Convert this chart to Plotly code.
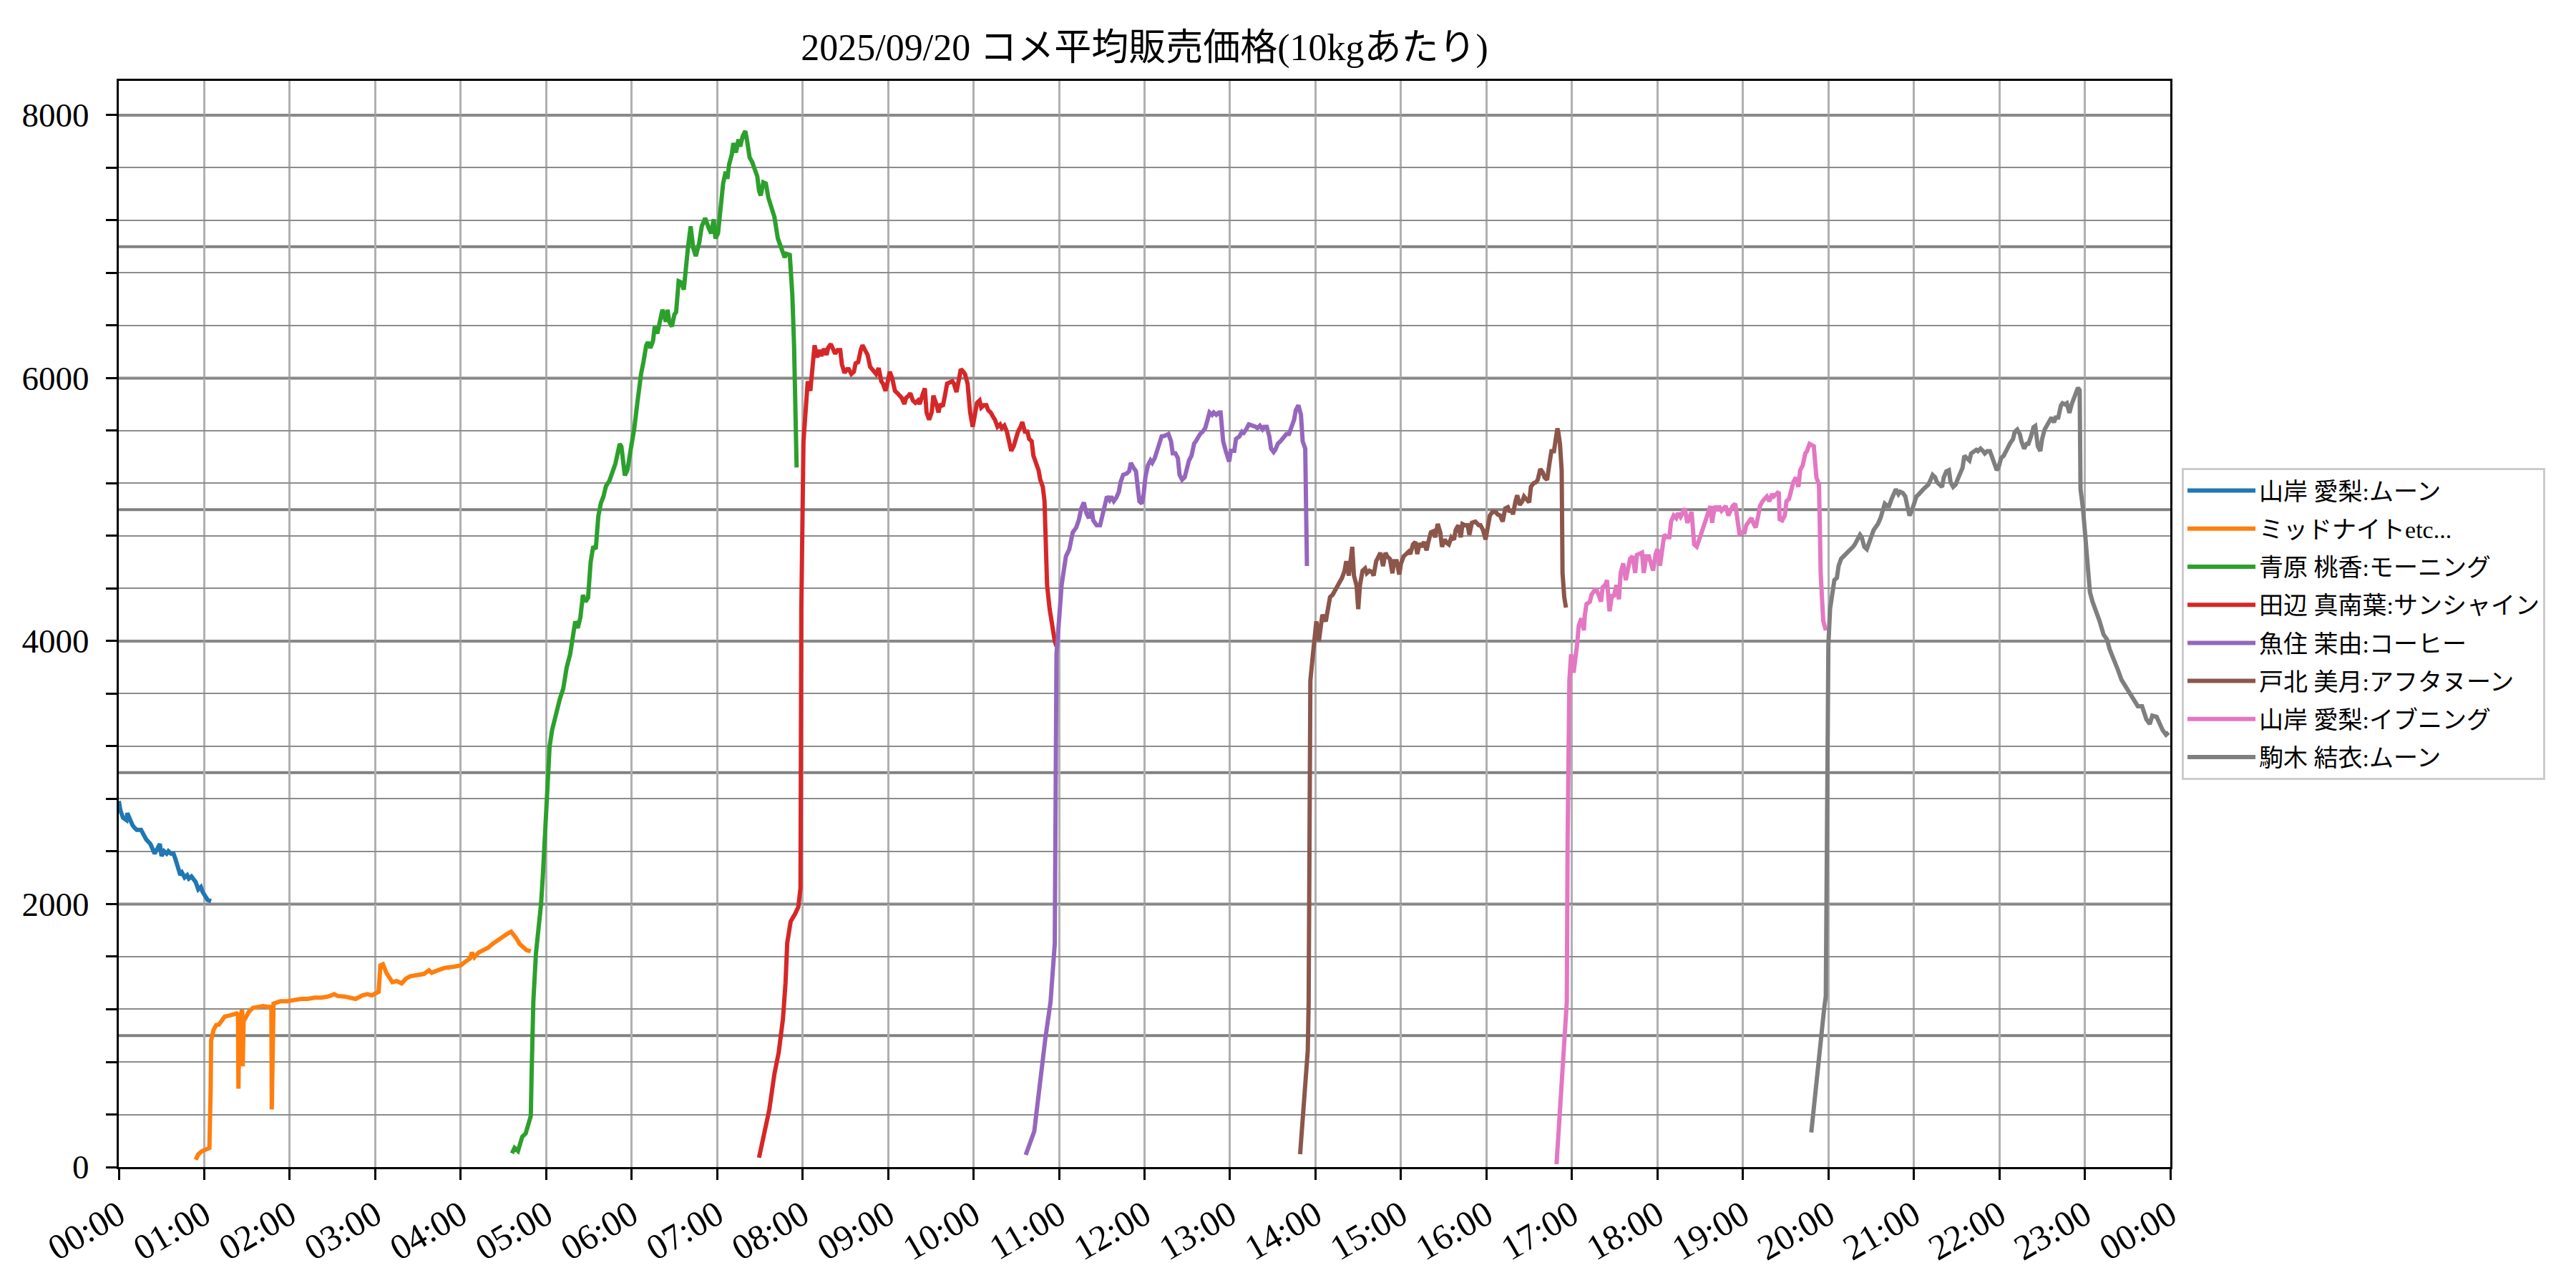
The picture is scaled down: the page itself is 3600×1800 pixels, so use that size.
import plotly.graph_objects as go

# ---------------- data (hours since 00:00, price in yen per 10kg) ----------------
names = ["山岸 愛梨:ムーン", "ミッドナイトetc...", "青原 桃香:モーニング", "田辺 真南葉:サンシャイン",
         "魚住 茉由:コーヒー", "戸北 美月:アフタヌーン", "山岸 愛梨:イブニング", "駒木 結衣:ムーン"]
colors = ["#1f77b4", "#ff7f0e", "#2ca02c", "#d62728", "#9467bd", "#8c564b", "#e377c2", "#7f7f7f"]

t_moon1 = [0.0, 0.02, 0.05, 0.09, 0.10, 0.13, 0.16, 0.18, 0.21, 0.26, 0.29, 0.32, 0.37, 0.40, 0.42, 0.45,
           0.48, 0.50, 0.53, 0.56, 0.58, 0.61, 0.64, 0.66, 0.69, 0.72, 0.74, 0.77, 0.80, 0.82, 0.85, 0.88,
           0.90, 0.93, 0.96, 0.98, 1.01, 1.04, 1.08]
v_moon1 = [2783, 2710, 2656, 2638, 2692, 2638, 2601, 2583, 2565, 2565, 2529, 2493, 2457, 2402, 2384, 2420,
           2457, 2366, 2402, 2384, 2402, 2384, 2384, 2348, 2275, 2221, 2239, 2203, 2220, 2194, 2210, 2185,
           2167, 2112, 2130, 2094, 2058, 2031, 2022]

t_mid = [0.90, 0.93, 0.97, 1.02, 1.06, 1.075, 1.08, 1.11, 1.14, 1.17, 1.20, 1.24, 1.28, 1.31, 1.35, 1.38,
         1.395, 1.40, 1.41, 1.43, 1.44, 1.445, 1.45, 1.46, 1.48, 1.52, 1.57, 1.62, 1.69, 1.76, 1.785, 1.79,
         1.80, 1.81, 1.89, 1.97, 2.05, 2.13, 2.21, 2.29, 2.37, 2.45, 2.52, 2.56, 2.64, 2.72, 2.77, 2.85,
         2.91, 2.96, 3.01, 3.04, 3.06, 3.09, 3.13, 3.16, 3.20, 3.25, 3.31, 3.36, 3.41, 3.49, 3.57, 3.63,
         3.66, 3.73, 3.81, 3.92, 4.00, 4.05, 4.11, 4.13, 4.16, 4.21, 4.27, 4.32, 4.37, 4.43, 4.47, 4.51,
         4.55, 4.59, 4.61, 4.65, 4.69, 4.73, 4.77, 4.82]
v_mid = [56, 97, 120, 134, 146, 600, 961, 1046, 1080, 1083, 1107, 1144, 1150, 1156, 1165, 1168,
         1160, 596, 1150, 1160, 1195, 1180, 766, 1107, 1130, 1180, 1210, 1217, 1224, 1217, 1220, 438,
         1200, 1243, 1261, 1261, 1270, 1279, 1279, 1288, 1288, 1297, 1315, 1301, 1297, 1288, 1279, 1306,
         1315, 1306, 1324, 1333, 1533, 1542, 1478, 1442, 1406, 1415, 1397, 1433, 1451, 1460, 1469, 1496,
         1478, 1496, 1514, 1524, 1533, 1560, 1587, 1632, 1596, 1632, 1650, 1668, 1696, 1723, 1750, 1759,
         1777, 1790, 1777, 1741, 1696, 1668, 1650, 1641]

t_morning = [4.60, 4.63, 4.67, 4.72, 4.76, 4.82, 4.83, 4.84, 4.85, 4.88, 4.91, 4.94, 4.96, 4.99, 5.02, 5.04,
             5.07, 5.11, 5.16, 5.20, 5.24, 5.28, 5.31, 5.34, 5.37, 5.40, 5.43, 5.46, 5.49, 5.52, 5.55, 5.58,
             5.61, 5.64, 5.67, 5.70, 5.74, 5.78, 5.81, 5.86, 5.88, 5.92, 5.95, 6.00, 6.03, 6.07, 6.10, 6.11,
             6.14, 6.17, 6.19, 6.22, 6.25, 6.27, 6.30, 6.32, 6.36, 6.40, 6.42, 6.44, 6.47, 6.50, 6.52, 6.55,
             6.58, 6.61, 6.63, 6.66, 6.69, 6.72, 6.75, 6.79, 6.82, 6.86, 6.90, 6.93, 6.96, 6.98, 7.01, 7.04,
             7.07, 7.10, 7.12, 7.14, 7.17, 7.19, 7.22, 7.25, 7.27, 7.30, 7.33, 7.35, 7.38, 7.41, 7.43, 7.47,
             7.49, 7.51, 7.54, 7.57, 7.60, 7.64, 7.67, 7.71, 7.73, 7.76, 7.79, 7.81, 7.85, 7.88, 7.90, 7.92,
             7.93]
v_morning = [105, 146, 122, 231, 255, 389, 717, 1000, 1261, 1623, 1804, 2000, 2203, 2565, 3000, 3199,
             3326, 3435, 3560, 3640, 3800, 3900, 4050, 4150, 4100, 4180, 4350, 4300, 4330, 4600, 4720, 4700,
             4950, 5050, 5100, 5180, 5220, 5300, 5350, 5500, 5480, 5260, 5300, 5500, 5614, 5831, 5995, 6031,
             6130, 6248, 6275, 6230, 6284, 6393, 6339, 6402, 6520, 6429, 6520, 6429, 6393, 6484, 6502, 6737,
             6728, 6674, 6846, 7000, 7154, 6991, 6928, 7027, 7154, 7217, 7145, 7100, 7208, 7063, 7100, 7317,
             7480, 7571, 7516, 7625, 7697, 7788, 7716, 7815, 7761, 7842, 7879, 7806, 7679, 7643, 7607, 7534,
             7426, 7389, 7489, 7480, 7371, 7299, 7226, 7063, 7018, 6973, 6918, 6946, 6937, 6629, 6248, 5614,
             5320]

t_sun = [7.49, 7.55, 7.61, 7.67, 7.72, 7.77, 7.80, 7.82, 7.86, 7.91, 7.95, 7.975, 7.985, 8.01, 8.04, 8.06,
         8.09, 8.12, 8.14, 8.17, 8.20, 8.22, 8.25, 8.28, 8.30, 8.33, 8.36, 8.38, 8.41, 8.44, 8.46, 8.49,
         8.52, 8.54, 8.57, 8.60, 8.62, 8.65, 8.68, 8.70, 8.73, 8.76, 8.79, 8.81, 8.84, 8.86, 8.89, 8.92,
         8.94, 8.97, 9.00, 9.02, 9.05, 9.08, 9.11, 9.13, 9.16, 9.19, 9.21, 9.24, 9.26, 9.29, 9.32, 9.35,
         9.37, 9.40, 9.43, 9.45, 9.48, 9.51, 9.53, 9.56, 9.59, 9.61, 9.64, 9.67, 9.69, 9.72, 9.75, 9.77,
         9.80, 9.83, 9.85, 9.88, 9.90, 9.93, 9.96, 9.99, 10.01, 10.04, 10.07, 10.09, 10.12, 10.15, 10.17,
         10.20, 10.23, 10.25, 10.28, 10.31, 10.33, 10.36, 10.39, 10.41, 10.44, 10.47, 10.49, 10.52, 10.55,
         10.57, 10.60, 10.63, 10.65, 10.68, 10.70, 10.73, 10.76, 10.78, 10.81, 10.83, 10.84, 10.86, 10.89,
         10.92, 10.95, 10.97]
v_sun = [71, 250, 436, 708, 871, 1127, 1400, 1705, 1868, 1923, 1978, 2120, 4243, 5520, 5849, 5976,
         5903, 6104, 6250, 6159, 6214, 6168, 6223, 6177, 6232, 6259, 6223, 6186, 6214, 6214, 6104, 6040,
         6068, 6068, 6031, 6049, 6113, 6122, 6214, 6250, 6214, 6177, 6086, 6068, 6049, 6031, 6077, 5976,
         5958, 5903, 5985, 6049, 5995, 5903, 5885, 5867, 5849, 5803, 5849, 5867, 5885, 5830, 5812, 5830,
         5803, 5867, 5922, 5739, 5684, 5739, 5867, 5812, 5739, 5803, 5785, 5885, 5958, 5967, 5976, 5958,
         5894, 5995, 6068, 6049, 6031, 5958, 5739, 5630, 5703, 5812, 5830, 5776, 5794, 5794, 5757,
         5739, 5703, 5684, 5630, 5648, 5620, 5639, 5593, 5538, 5447, 5484, 5538, 5593, 5630,
         5666, 5593, 5593, 5538, 5520, 5411, 5356, 5301, 5228, 5173, 5064, 4790, 4425, 4243,
         4100, 4000, 3960]

t_coffee = [10.61, 10.66, 10.71, 10.74, 10.77, 10.80, 10.84, 10.90, 10.92, 10.95, 10.97, 11.00, 11.03, 11.08,
            11.12, 11.16, 11.20, 11.23, 11.26, 11.29, 11.32, 11.35, 11.38, 11.40, 11.44, 11.48, 11.51, 11.54,
            11.56, 11.59, 11.61, 11.64, 11.67, 11.70, 11.72, 11.75, 11.79, 11.82, 11.84, 11.87, 11.90, 11.92,
            11.94, 11.97, 11.99, 12.01, 12.04, 12.07, 12.09, 12.12, 12.15, 12.17, 12.20, 12.23, 12.25, 12.28,
            12.31, 12.33, 12.36, 12.39, 12.41, 12.44, 12.47, 12.49, 12.52, 12.55, 12.58, 12.60, 12.63, 12.65,
            12.68, 12.71, 12.73, 12.76, 12.79, 12.81, 12.84, 12.87, 12.89, 12.92, 12.95, 12.97, 12.99, 13.01,
            13.05, 13.07, 13.11, 13.14, 13.16, 13.19, 13.22, 13.24, 13.27, 13.30, 13.32, 13.35, 13.38, 13.40,
            13.43, 13.46, 13.48, 13.51, 13.53, 13.56, 13.59, 13.61, 13.64, 13.66, 13.69, 13.72, 13.75, 13.77,
            13.80, 13.83, 13.85, 13.88, 13.89, 13.90]
v_coffee = [92, 180, 272, 436, 616, 800, 980, 1253, 1450, 1700, 3900, 4150, 4425, 4644,
            4699, 4827, 4863, 4918, 5009, 5055, 4973, 4936, 5000, 4918, 4881, 4881, 4954, 5027,
            5100, 5073, 5100, 5064, 5091, 5137, 5210, 5265, 5274, 5292, 5356, 5319, 5292, 5173,
            5064, 5046, 5119, 5246, 5338, 5374, 5356, 5392, 5447, 5484, 5557, 5560, 5566, 5575,
            5520, 5429, 5429, 5392, 5265, 5228, 5246, 5301, 5374, 5411, 5502, 5520, 5557, 5575,
            5593, 5620, 5666, 5739, 5721, 5739, 5721, 5739, 5739, 5520, 5447, 5392, 5365, 5447,
            5447, 5538, 5557, 5593, 5584, 5611, 5648, 5644, 5639, 5630, 5620, 5639, 5611, 5630,
            5630, 5557, 5465, 5438, 5456, 5502, 5520, 5538, 5557, 5575, 5575, 5630, 5684, 5757,
            5794, 5721, 5520, 5465, 4973, 4571]

t_after = [13.82, 13.85, 13.88, 13.91, 13.92, 13.93, 13.94, 13.97, 14.01, 14.04, 14.08, 14.12, 14.15, 14.17,
           14.20, 14.23, 14.26, 14.28, 14.31, 14.34, 14.36, 14.39, 14.42, 14.43, 14.45, 14.48, 14.50, 14.52,
           14.55, 14.58, 14.60, 14.63, 14.66, 14.68, 14.71, 14.74, 14.76, 14.79, 14.82, 14.84, 14.87, 14.90,
           14.92, 14.95, 14.98, 15.00, 15.03, 15.06, 15.09, 15.11, 15.14, 15.17, 15.19, 15.22, 15.24, 15.27,
           15.30, 15.32, 15.35, 15.38, 15.40, 15.43, 15.46, 15.48, 15.51, 15.54, 15.56, 15.59, 15.62, 15.64,
           15.67, 15.70, 15.72, 15.75, 15.78, 15.80, 15.83, 15.87, 15.91, 15.93, 15.96, 15.99, 16.02, 16.04,
           16.07, 16.11, 16.13, 16.16, 16.19, 16.22, 16.25, 16.27, 16.29, 16.31, 16.34, 16.36, 16.39, 16.42,
           16.44, 16.47, 16.50, 16.52, 16.55, 16.58, 16.60, 16.63, 16.66, 16.68, 16.71, 16.74, 16.76, 16.79,
           16.81, 16.83, 16.84, 16.86, 16.88, 16.89, 16.91, 16.93]
v_after = [98, 381, 708, 888, 1253, 2500, 3700, 3900, 4150, 4000, 4200, 4150, 4243, 4334,
           4352, 4389, 4425, 4443, 4480, 4535, 4608, 4498, 4717, 4717, 4498, 4425, 4243, 4425,
           4535, 4553, 4516, 4535, 4526, 4498, 4608, 4644, 4672, 4571, 4672, 4644, 4626, 4516,
           4608, 4608, 4507, 4589, 4644, 4662, 4681, 4662, 4735, 4754, 4662, 4745, 4717, 4754,
           4690, 4754, 4827, 4836, 4790, 4891, 4827, 4717, 4772, 4745, 4735, 4790, 4772, 4845,
           4881, 4790, 4891, 4881, 4882, 4809, 4900, 4909, 4882, 4882, 4845, 4773, 4900, 4955,
           4982, 4982, 4964, 4955, 4909, 5009, 5018, 4982, 5000, 4964, 5064, 5109, 5036, 5064,
           5100, 5082, 5055, 5173, 5200, 5209, 5227, 5309, 5282, 5245, 5227, 5364, 5445, 5445,
           5555, 5618, 5591, 5500, 5300, 4518, 4336, 4255]

t_evening = [16.82, 16.85, 16.89, 16.92, 16.94, 16.95, 16.97, 16.99, 17.02, 17.06, 17.08, 17.11, 17.14, 17.15,
             17.17, 17.21, 17.23, 17.25, 17.28, 17.31, 17.34, 17.36, 17.39, 17.41, 17.44, 17.47, 17.49, 17.52,
             17.55, 17.57, 17.60, 17.63, 17.66, 17.68, 17.71, 17.74, 17.76, 17.79, 17.82, 17.84, 17.87, 17.90,
             17.92, 17.95, 17.98, 18.00, 18.03, 18.06, 18.08, 18.11, 18.14, 18.16, 18.19, 18.22, 18.24, 18.27,
             18.30, 18.32, 18.35, 18.38, 18.40, 18.43, 18.46, 18.48, 18.51, 18.53, 18.56, 18.59, 18.62, 18.64,
             18.67, 18.70, 18.72, 18.75, 18.78, 18.80, 18.83, 18.86, 18.88, 18.91, 18.94, 18.96, 18.99, 19.02,
             19.04, 19.07, 19.10, 19.12, 19.15, 19.18, 19.20, 19.23, 19.26, 19.28, 19.31, 19.34, 19.36, 19.39,
             19.42, 19.43, 19.46, 19.49, 19.51, 19.54, 19.57, 19.59, 19.62, 19.65, 19.67, 19.70, 19.73, 19.75,
             19.78, 19.81, 19.83, 19.86, 19.89, 19.90, 19.91, 19.94, 19.97]
v_evening = [22, 310, 763, 980, 1253, 2500, 3700, 3900, 3760, 3973, 4118, 4173, 4082, 4191,
             4282, 4300, 4355, 4373, 4400, 4355, 4300, 4409, 4427, 4464, 4227, 4355, 4336, 4427,
             4318, 4518, 4591, 4464, 4555, 4627, 4645, 4518, 4655, 4664, 4673, 4518, 4645, 4645,
             4609, 4536, 4664, 4700, 4573, 4755, 4809, 4791, 4791, 4909, 4955, 4936, 4973, 4945,
             4982, 5009, 4900, 4955, 4982, 4736, 4718, 4755, 4809, 4845, 4918, 4955, 5027, 4900,
             5027, 4991, 5027, 4991, 5009, 5027, 4955, 4991, 5027, 5045, 4882, 4818, 4827, 4827,
             4882, 4909, 4936, 4900, 4864, 4955, 5027, 5064, 5082, 5100, 5064, 5118, 5100, 5118,
             5136, 4927, 4918, 4955, 5064, 5082, 5164, 5209, 5245, 5173, 5300, 5336, 5427, 5445,
             5500, 5491, 5482, 5245, 5191, 4882, 4518, 4155, 4082]

t_moon2 = [19.80, 19.84, 19.87, 19.91, 19.95, 19.97, 19.99, 20.00, 20.02, 20.05, 20.07, 20.10, 20.12, 20.15,
           20.18, 20.21, 20.23, 20.26, 20.29, 20.31, 20.34, 20.37, 20.39, 20.42, 20.45, 20.47, 20.50, 20.53,
           20.55, 20.58, 20.61, 20.63, 20.66, 20.69, 20.71, 20.74, 20.77, 20.79, 20.82, 20.84, 20.87, 20.90,
           20.93, 20.95, 20.98, 21.01, 21.03, 21.06, 21.09, 21.11, 21.14, 21.17, 21.19, 21.22, 21.25, 21.27,
           21.30, 21.33, 21.35, 21.38, 21.41, 21.43, 21.46, 21.49, 21.51, 21.54, 21.57, 21.59, 21.62, 21.65,
           21.67, 21.70, 21.73, 21.75, 21.78, 21.81, 21.83, 21.86, 21.89, 21.91, 21.94, 21.97, 21.99, 22.02,
           22.05, 22.08, 22.10, 22.13, 22.16, 22.18, 22.21, 22.24, 22.26, 22.29, 22.32, 22.34, 22.37, 22.40,
           22.42, 22.45, 22.48, 22.50, 22.53, 22.56, 22.58, 22.61, 22.64, 22.66, 22.69, 22.72, 22.74, 22.77,
           22.79, 22.82, 22.85, 22.87, 22.90, 22.92, 22.94, 22.945, 22.95, 22.98, 23.01, 23.03, 23.06, 23.09,
           23.12, 23.17, 23.22, 23.26, 23.29, 23.34, 23.39, 23.43, 23.48, 23.53, 23.58, 23.62, 23.67, 23.72,
           23.76, 23.79, 23.84, 23.87, 23.91, 23.95, 23.98]
v_moon2 = [263, 528, 708, 980, 1200, 1300, 3800, 3973, 4245, 4373, 4464, 4482, 4573, 4627,
           4645, 4664, 4682, 4700, 4718, 4736, 4773, 4809, 4791, 4718, 4700, 4736, 4809, 4845,
           4864, 4891, 4936, 4973, 5045, 5027, 5027, 5082, 5118, 5155, 5118, 5136, 5127, 5100,
           5009, 4955, 5000, 5064, 5100, 5118, 5145, 5155, 5173, 5191, 5218, 5264, 5245, 5209,
           5191, 5173, 5245, 5291, 5300, 5209, 5173, 5191, 5227, 5264, 5318, 5409, 5391, 5373,
           5427, 5445, 5455, 5445, 5464, 5445, 5427, 5445, 5445, 5409, 5355, 5300, 5318, 5391,
           5409, 5445, 5482, 5509, 5536, 5591, 5609, 5573, 5518, 5464, 5500, 5500, 5555, 5627,
           5636, 5482, 5445, 5536, 5609, 5645, 5673, 5700, 5664, 5700, 5700, 5791, 5809, 5800,
           5809, 5736, 5809, 5845, 5900, 5927, 5909, 5609, 5155, 5000, 4736, 4555, 4373, 4300,
           4248, 4158, 4049, 4013, 3940, 3868, 3777, 3705, 3650, 3596, 3542, 3505, 3505, 3406,
           3370, 3433, 3424, 3379, 3324, 3288, 3306]

series_t = [t_moon1, t_mid, t_morning, t_sun, t_coffee, t_after, t_evening, t_moon2]
series_v = [v_moon1, v_mid, v_morning, v_sun, v_coffee, v_after, v_evening, v_moon2]

hour_ticks = list(range(0, 25))
hour_labels = [f"{h % 24:02d}:00" for h in hour_ticks]
y_ticks = list(range(0, 8001, 400))
y_labels = [str(v) if v % 2000 == 0 else "" for v in y_ticks]
y_strong = list(range(1000, 8001, 1000))

title_text = "2025/09/20 コメ平均販売価格(10kgあたり)"
FONT = "Liberation Serif, Noto Sans CJK JP, serif"

# ---------------- figure ----------------
fig = go.Figure()
for i, (nm, col) in enumerate(zip(names, colors)):
    fig.add_trace(go.Scatter(x=series_t[i], y=series_v[i], mode="lines", name=nm,
                             legendgroup=f"g{i}",
                             line=dict(color=col, width=6)))

shapes = [dict(type="line", xref="paper", x0=0, x1=1, yref="y", y0=v, y1=v,
               line=dict(color="#808080", width=4), layer="between") for v in y_strong]

# the page body adds an 8px offset; margins below compensate for it
fig.update_layout(
    width=3600, height=1800, autosize=False,
    paper_bgcolor="white", plot_bgcolor="white",
    margin=dict(l=158, r=575, t=105, b=177, pad=0),
    font=dict(family=FONT, size=48, color="black"),
    title=dict(text=title_text, x=0.5, xref="paper", xanchor="center",
               y=1 - 58 / 1800, yref="container", yanchor="middle",
               font=dict(family=FONT, size=52, color="black")),
    shapes=shapes,
    showlegend=True,
    legend=dict(x=1.0056, y=0.6436, xanchor="left", yanchor="top",
                bgcolor="white", bordercolor="#cccccc", borderwidth=3,
                font=dict(family=FONT, size=34, color="black"),
                tracegroupgap=6, itemwidth=95),
    xaxis=dict(range=[0, 24], tickmode="array", tickvals=hour_ticks, ticktext=hour_labels,
               tickangle=-30, ticks="outside", ticklen=15, tickwidth=3, tickcolor="black",
               showgrid=True, gridcolor="#b0b0b0", gridwidth=3,
               showline=True, linecolor="black", linewidth=3, mirror=True,
               zeroline=False, tickfont=dict(family=FONT, size=50), ticklabelstandoff=0),
    yaxis=dict(range=[0, 8261], tickmode="array", tickvals=y_ticks, ticktext=y_labels,
               ticks="outside", ticklen=15, tickwidth=3, tickcolor="black",
               showgrid=True, gridcolor="#8c8c8c", gridwidth=1.5,
               showline=True, linecolor="black", linewidth=3, mirror=True,
               zeroline=False, tickfont=dict(family=FONT, size=47), ticklabelstandoff=14),
)

fig.write_html("out.html")
